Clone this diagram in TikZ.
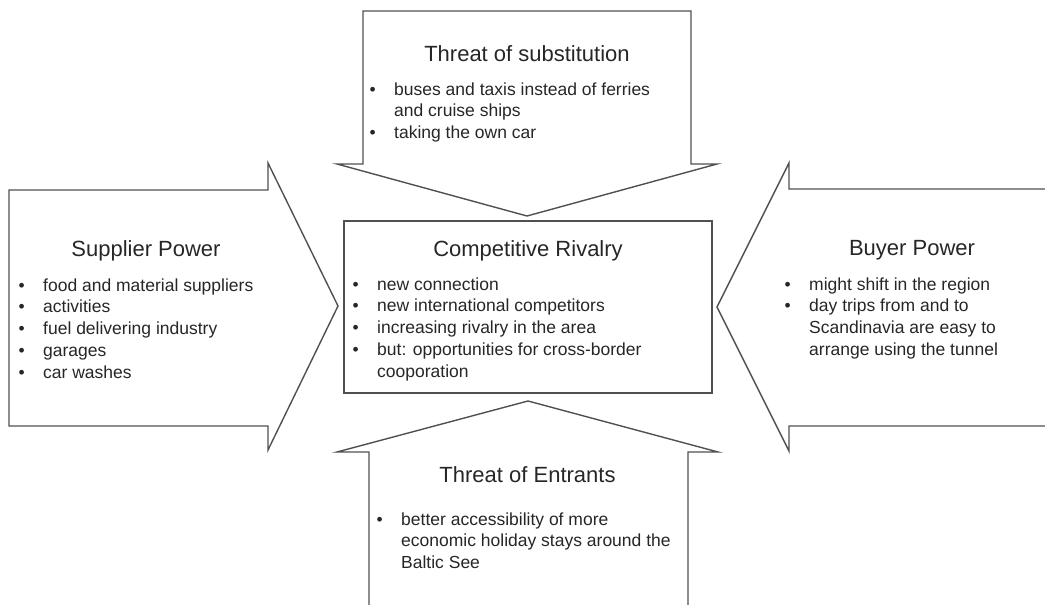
\documentclass[tikz,border=0pt]{standalone}
\usepackage{fontspec}
\setmainfont{Liberation Sans}
\definecolor{linegray}{RGB}{80,80,80}
\definecolor{ink}{RGB}{38,38,38}
% bullet list: first column holds the bullet, second the item text
\newcommand\bulletlist[1]{\begin{tabular}[t]{@{}p{24.5pt}@{}l@{}}#1\end{tabular}}
\newcommand\itm{\textbullet}
\begin{document}
\begin{tikzpicture}[x=1pt,y=-1pt,
  outline/.style={draw=linegray, line width=1.4pt, line join=miter},
  headline/.style={anchor=base, inner sep=0pt, text=ink, font=\fontsize{22}{26}\selectfont},
  itemlist/.style={anchor=base west, inner sep=0pt, text=ink, font=\fontsize{17.5}{21.8}\selectfont}]
\useasboundingbox (0,0) rectangle (1045,605);
\clip (0,0) rectangle (1045,605);

% block arrows and central box
\draw[outline] (363,11) -- (691,11) -- (691,164) -- (717,164) -- (527,216)
  -- (337,164) -- (363,164) -- cycle;
\draw[outline] (9,190) -- (268,190) -- (268,163) -- (338,306) -- (268,450)
  -- (268,426) -- (9,426) -- cycle;
\draw[outline] (1060,189) -- (789,189) -- (789,163) -- (717,307) -- (789,451)
  -- (789,426) -- (1060,426);
\draw[outline] (369,615) -- (369,452) -- (337,452) -- (528,401) -- (718,452)
  -- (688,452) -- (688,615);
\draw[outline] (344,221) rectangle (712,393);

% threat of substitution
\node[headline] (subst) at (527,61) {Threat of substitution};
\node[itemlist] (substlist) at (369.5,95) {\bulletlist{%
  \itm & buses and taxis instead of ferries\\
       & and cruise ships\\
  \itm & taking the own car}};

% supplier power
\node[headline] (supplier) at (146,256) {Supplier Power};
\node[itemlist] (supplierlist) at (18.5,291) {\bulletlist{%
  \itm & food and material suppliers\\
  \itm & activities\\
  \itm & fuel delivering industry\\
  \itm & garages\\
  \itm & car washes}};

% competitive rivalry
\node[headline] (rivalry) at (528,256) {Competitive Rivalry};
\node[itemlist] (rivalrylist) at (352.5,290) {\bulletlist{%
  \itm & new connection\\
  \itm & new international competitors\\
  \itm & increasing rivalry in the area\\
  \itm & but: opportunities for cross-border\\
       & cooporation}};

% buyer power
\node[headline] (buyer) at (912,255) {Buyer Power};
\node[itemlist] (buyerlist) at (784.5,290) {\bulletlist{%
  \itm & might shift in the region\\
  \itm & day trips from and to\\
       & Scandinavia are easy to\\
       & arrange using the tunnel}};

% threat of entrants
\node[headline] (entrants) at (527.5,482) {Threat of Entrants};
\node[itemlist] (entrantslist) at (376.5,525) {\bulletlist{%
  \itm & better accessibility of more\\
       & economic holiday stays around the\\
       & Baltic See}};
\end{tikzpicture}
\end{document}
